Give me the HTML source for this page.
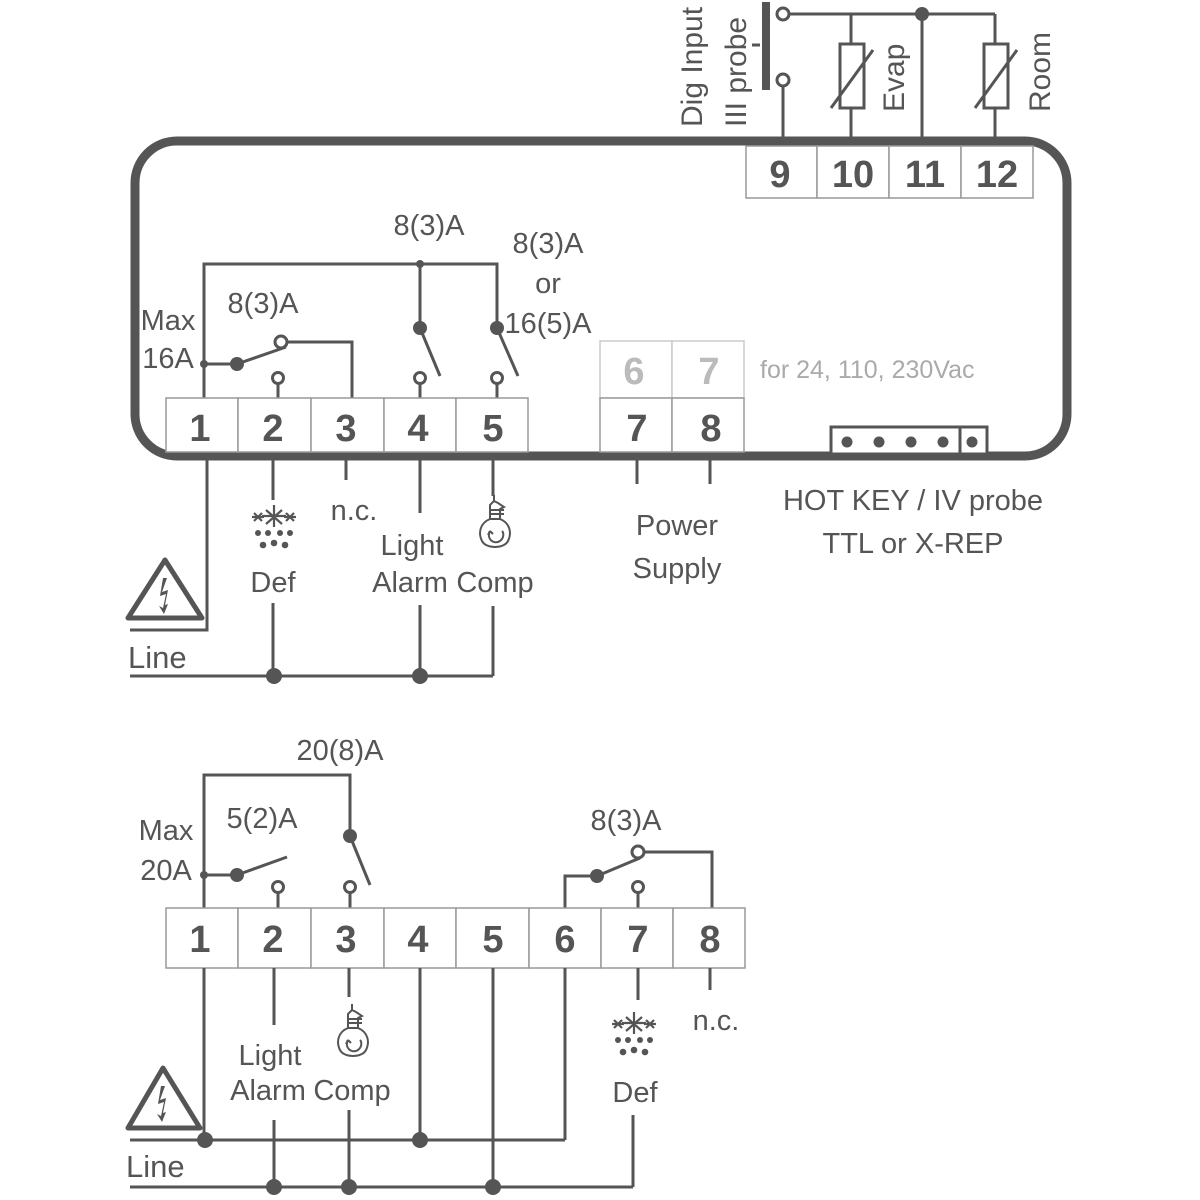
<!DOCTYPE html>
<html><head><meta charset="utf-8"><style>
html,body{margin:0;padding:0;background:#fff}
svg{display:block}
text{font-family:"Liberation Sans Narrow","Liberation Sans",sans-serif;fill:#555}
.n{font-family:"Liberation Sans",sans-serif;font-weight:bold;font-size:38px;text-anchor:middle;fill:#555}
.l{font-size:29px;text-anchor:middle}
</style></head><body>
<svg width="1200" height="1200" viewBox="0 0 1200 1200" xmlns="http://www.w3.org/2000/svg">
<defs>
<symbol id="snow" viewBox="0 0 44 46">
 <g stroke="#555" stroke-width="2.2" fill="none">
  <line x1="22" y1="0" x2="22" y2="22"/><line x1="10" y1="11" x2="34" y2="11"/>
  <line x1="14" y1="5" x2="30" y2="19"/><line x1="30" y1="5" x2="14" y2="19"/>
  <line x1="2" y1="8" x2="10" y2="16"/><line x1="10" y1="8" x2="2" y2="16"/><line x1="0" y1="12" x2="12" y2="12"/>
  <line x1="34" y1="8" x2="42" y2="16"/><line x1="42" y1="8" x2="34" y2="16"/><line x1="32" y1="12" x2="44" y2="12"/>
 </g>
 <g fill="#555">
  <circle cx="6" cy="28" r="3"/><circle cx="16" cy="28" r="3"/><circle cx="28" cy="28" r="3"/><circle cx="38" cy="28" r="3"/>
  <circle cx="11" cy="40" r="3.3"/><circle cx="22" cy="38" r="3.3"/><circle cx="33" cy="40" r="3.3"/>
 </g>
</symbol>
<symbol id="bulb" viewBox="0 0 34 56">
 <g stroke="#555" stroke-width="2" fill="none">
  <path d="M16 0 L16 6 L12 10 L12 24 L22 24 L22 14 L26 12 L20 8 L16 6"/>
  <line x1="12" y1="15" x2="26" y2="15"/><line x1="12" y1="19" x2="26" y2="19"/>
  <path d="M12 24 C2 28 0 38 4 46 C8 54 26 54 30 46 C34 38 32 28 22 24"/>
  <path d="M12 36 C8 44 16 50 22 46 C26 43 26 38 24 36"/>
  <path d="M12 36 L10 40 M12 36 L15 39"/>
 </g>
</symbol>
</defs>

<g stroke="#555" fill="none">
 <!-- main housing -->
 <rect x="135" y="141" width="932" height="315" rx="42" stroke-width="9"/>
</g>

<!-- top probe area -->
<g stroke="#555" stroke-width="3" fill="none">
 <line x1="766" y1="2" x2="766" y2="90" stroke-width="8"/>
 <line x1="760" y1="45" x2="752" y2="45" stroke-width="3"/>
 <circle cx="783" cy="14" r="6" fill="#fff"/>
 <circle cx="783" cy="80" r="6" fill="#fff"/>
 <line x1="783" y1="86" x2="783" y2="140"/>
 <line x1="789" y1="14" x2="995" y2="14"/>
 <line x1="922" y1="14" x2="922" y2="140"/>
 <line x1="851" y1="14" x2="851" y2="44"/>
 <rect x="840" y="44" width="24" height="64"/>
 <line x1="851" y1="108" x2="851" y2="140"/>
 <line x1="831" y1="108" x2="873" y2="50"/>
 <line x1="995" y1="14" x2="995" y2="44"/>
 <rect x="984" y="44" width="24" height="64"/>
 <line x1="995" y1="108" x2="995" y2="140"/>
 <line x1="975" y1="108" x2="1017" y2="50"/>
</g>
<circle cx="922" cy="14" r="7" fill="#555"/>
<text transform="translate(702,127) rotate(-90)" font-size="30">Dig Input</text>
<text transform="translate(746,127) rotate(-90)" font-size="30">III probe</text>
<text transform="translate(904,112) rotate(-90)" font-size="30">Evap</text>
<text transform="translate(1050,112) rotate(-90)" font-size="30">Room</text>

<!-- terminals 9-12 -->
<g stroke="#999" stroke-width="1.5" fill="#fff">
 <rect x="746" y="146" width="71" height="52"/><rect x="817" y="146" width="72" height="52"/>
 <rect x="889" y="146" width="72" height="52"/><rect x="961" y="146" width="72" height="52"/>
</g>
<text class="n" x="780" y="187">9</text><text class="n" x="853" y="187">10</text>
<text class="n" x="925" y="187">11</text><text class="n" x="997" y="187">12</text>

<!-- top relays -->
<g stroke="#555" stroke-width="3" fill="none">
 <polyline points="204,398 204,264 497,264 497,328"/>
 <line x1="420" y1="264" x2="420" y2="328"/>
 <line x1="420" y1="328" x2="440" y2="376"/>
 <line x1="497" y1="328" x2="518" y2="376"/>
 <line x1="420" y1="384" x2="420" y2="398"/><line x1="497" y1="384" x2="497" y2="398"/>
 <line x1="204" y1="364" x2="237" y2="364"/>
 <line x1="237" y1="364" x2="286" y2="347"/>
 <polyline points="287,342 352,342 352,398"/>
 <line x1="278" y1="384" x2="278" y2="398"/>
 <circle cx="420" cy="378" r="5.5" fill="#fff"/><circle cx="497" cy="378" r="5.5" fill="#fff"/>
 <circle cx="278" cy="378" r="5.5" fill="#fff"/><circle cx="281" cy="342" r="6" fill="#fff"/>
</g>
<g fill="#555">
 <circle cx="420" cy="264" r="4"/><circle cx="420" cy="328" r="7"/><circle cx="497" cy="328" r="7"/>
 <circle cx="204" cy="364" r="4"/><circle cx="237" cy="364" r="7"/>
</g>
<text class="l" x="429" y="235" font-size="27">8(3)A</text>
<text class="l" x="263" y="313" font-size="27">8(3)A</text>
<text class="l" x="168" y="330" font-size="27">Max</text>
<text class="l" x="168" y="368" font-size="27">16A</text>
<text class="l" x="548" y="253" font-size="27">8(3)A</text>
<text class="l" x="548" y="293" font-size="27">or</text>
<text class="l" x="548" y="333" font-size="27">16(5)A</text>

<!-- top terminals 1-5 -->
<g stroke="#999" stroke-width="1.5" fill="#fff">
 <rect x="166" y="398" width="72" height="54"/><rect x="238" y="398" width="73" height="54"/>
 <rect x="311" y="398" width="73" height="54"/><rect x="384" y="398" width="72" height="54"/>
 <rect x="456" y="398" width="72" height="54"/>
 <rect x="600" y="341" width="72" height="57" stroke="#ccc"/><rect x="672" y="341" width="72" height="57" stroke="#ccc"/>
 <rect x="600" y="398" width="72" height="54"/><rect x="672" y="398" width="72" height="54"/>
</g>
<text class="n" x="200" y="441">1</text><text class="n" x="273" y="441">2</text>
<text class="n" x="346" y="441">3</text><text class="n" x="418" y="441">4</text>
<text class="n" x="493" y="441">5</text>
<text class="n" x="634" y="384" style="fill:#bbb">6</text><text class="n" x="709" y="384" style="fill:#bbb">7</text>
<text class="n" x="637" y="441">7</text><text class="n" x="711" y="441">8</text>
<text x="760" y="378" font-size="25" style="fill:#aaa">for 24, 110, 230Vac</text>

<!-- hotkey -->
<rect x="831" y="427" width="156" height="27" fill="#fff" stroke="#555" stroke-width="3"/>
<line x1="960" y1="427" x2="960" y2="454" stroke="#555" stroke-width="3"/>
<g fill="#555"><circle cx="847" cy="442" r="5.5"/><circle cx="879" cy="442" r="5.5"/><circle cx="911" cy="442" r="5.5"/><circle cx="943" cy="442" r="5.5"/><circle cx="972" cy="442" r="5.5"/></g>
<text class="l" x="913" y="510" font-size="31">HOT KEY / IV probe</text>
<text class="l" x="913" y="553" font-size="31">TTL or X-REP</text>

<!-- below top -->
<g stroke="#555" stroke-width="3" fill="none">
 <polyline points="207,460 207,630 130,630"/>
 <line x1="130" y1="676" x2="493" y2="676"/>
 <line x1="273" y1="460" x2="273" y2="500"/><line x1="273" y1="603" x2="273" y2="676"/>
 <line x1="346" y1="460" x2="346" y2="480"/>
 <line x1="420" y1="460" x2="420" y2="513"/><line x1="420" y1="605" x2="420" y2="676"/>
 <line x1="493" y1="460" x2="493" y2="496"/><line x1="493" y1="606" x2="493" y2="676"/>
 <line x1="637" y1="460" x2="637" y2="484"/><line x1="710" y1="460" x2="710" y2="484"/>
 <path d="M165 560 L128 618 L202 618 Z" stroke-width="5" stroke-linejoin="round"/>
</g>
<path d="M163 578 L160 596 L166 594 L163 608 L159 606 L164 614 L168 604 L165 605 L168 590 L162 592 L167 578 Z" fill="#555"/>
<g fill="#555"><circle cx="274" cy="676" r="8"/><circle cx="420" cy="676" r="8"/></g>
<use href="#snow" x="252" y="505" width="44" height="46"/>
<use href="#bulb" x="478" y="495" width="34" height="56"/>
<text x="128" y="668" font-size="31">Line</text>
<text class="l" x="273" y="592" font-size="31">Def</text>
<text class="l" x="354" y="520" font-size="31">n.c.</text>
<text class="l" x="412" y="555" font-size="31">Light</text>
<text class="l" x="410" y="592" font-size="31">Alarm</text>
<text class="l" x="495" y="592" font-size="31">Comp</text>
<text class="l" x="677" y="535" font-size="31">Power</text>
<text class="l" x="677" y="578" font-size="31">Supply</text>

<!-- bottom diagram relays -->
<g stroke="#555" stroke-width="3" fill="none">
 <polyline points="204,908 204,775 350,775 350,836"/>
 <line x1="350" y1="836" x2="370" y2="885"/>
 <line x1="204" y1="875" x2="237" y2="875"/><line x1="237" y1="875" x2="287" y2="857"/>
 <line x1="278" y1="893" x2="278" y2="908"/><line x1="350" y1="893" x2="350" y2="908"/>
 <polyline points="565,908 565,876 597,876"/><line x1="597" y1="876" x2="640" y2="858"/>
 <polyline points="644,852 712,852 712,908"/>
 <line x1="638" y1="893" x2="638" y2="908"/>
 <circle cx="278" cy="887" r="5.5" fill="#fff"/><circle cx="350" cy="887" r="5.5" fill="#fff"/>
 <circle cx="638" cy="887" r="5.5" fill="#fff"/><circle cx="638" cy="852" r="6" fill="#fff"/>
</g>
<g fill="#555"><circle cx="350" cy="836" r="7"/><circle cx="204" cy="875" r="4"/><circle cx="237" cy="875" r="7"/><circle cx="597" cy="876" r="7"/></g>
<text class="l" x="340" y="760" font-size="27">20(8)A</text>
<text class="l" x="262" y="828" font-size="27">5(2)A</text>
<text class="l" x="166" y="840" font-size="27">Max</text>
<text class="l" x="166" y="880" font-size="27">20A</text>
<text class="l" x="626" y="830" font-size="27">8(3)A</text>

<g stroke="#999" stroke-width="1.5" fill="#fff">
 <rect x="166" y="908" width="72" height="60"/><rect x="238" y="908" width="73" height="60"/>
 <rect x="311" y="908" width="73" height="60"/><rect x="384" y="908" width="72" height="60"/>
 <rect x="456" y="908" width="73" height="60"/><rect x="529" y="908" width="72" height="60"/>
 <rect x="601" y="908" width="72" height="60"/><rect x="673" y="908" width="72" height="60"/>
</g>
<text class="n" x="200" y="952">1</text><text class="n" x="273" y="952">2</text>
<text class="n" x="346" y="952">3</text><text class="n" x="418" y="952">4</text>
<text class="n" x="493" y="952">5</text><text class="n" x="565" y="952">6</text>
<text class="n" x="638" y="952">7</text><text class="n" x="710" y="952">8</text>

<g stroke="#555" stroke-width="3" fill="none">
 <line x1="204" y1="968" x2="204" y2="1140"/>
 <line x1="130" y1="1140" x2="565" y2="1140"/>
 <line x1="420" y1="968" x2="420" y2="1140"/>
 <line x1="565" y1="968" x2="565" y2="1140"/>
 <line x1="130" y1="1187" x2="633" y2="1187"/>
 <line x1="633" y1="1115" x2="633" y2="1187"/>
 <line x1="274" y1="968" x2="274" y2="1025"/><line x1="274" y1="1120" x2="274" y2="1187"/>
 <line x1="349" y1="968" x2="349" y2="997"/><line x1="349" y1="1110" x2="349" y2="1187"/>
 <line x1="493" y1="968" x2="493" y2="1187"/>
 <line x1="638" y1="968" x2="638" y2="1000"/>
 <line x1="710" y1="968" x2="710" y2="990"/>
 <path d="M163 1068 L128 1128 L200 1128 Z" stroke-width="5" stroke-linejoin="round"/>
</g>
<path d="M161 1086 L158 1104 L164 1102 L161 1116 L157 1114 L162 1122 L166 1112 L163 1113 L166 1098 L160 1100 L165 1086 Z" fill="#555"/>
<g fill="#555"><circle cx="205" cy="1140" r="8"/><circle cx="420" cy="1140" r="8"/>
<circle cx="274" cy="1187" r="8"/><circle cx="349" cy="1187" r="8"/><circle cx="493" cy="1187" r="8"/></g>
<use href="#bulb" x="336" y="1004" width="34" height="56"/>
<use href="#snow" x="612" y="1012" width="44" height="46"/>
<text x="126" y="1177" font-size="31">Line</text>
<text class="l" x="270" y="1065" font-size="31">Light</text>
<text class="l" x="268" y="1100" font-size="31">Alarm</text>
<text class="l" x="352" y="1100" font-size="31">Comp</text>
<text class="l" x="635" y="1102" font-size="31">Def</text>
<text class="l" x="716" y="1030" font-size="31">n.c.</text>
</svg>
</body></html>
